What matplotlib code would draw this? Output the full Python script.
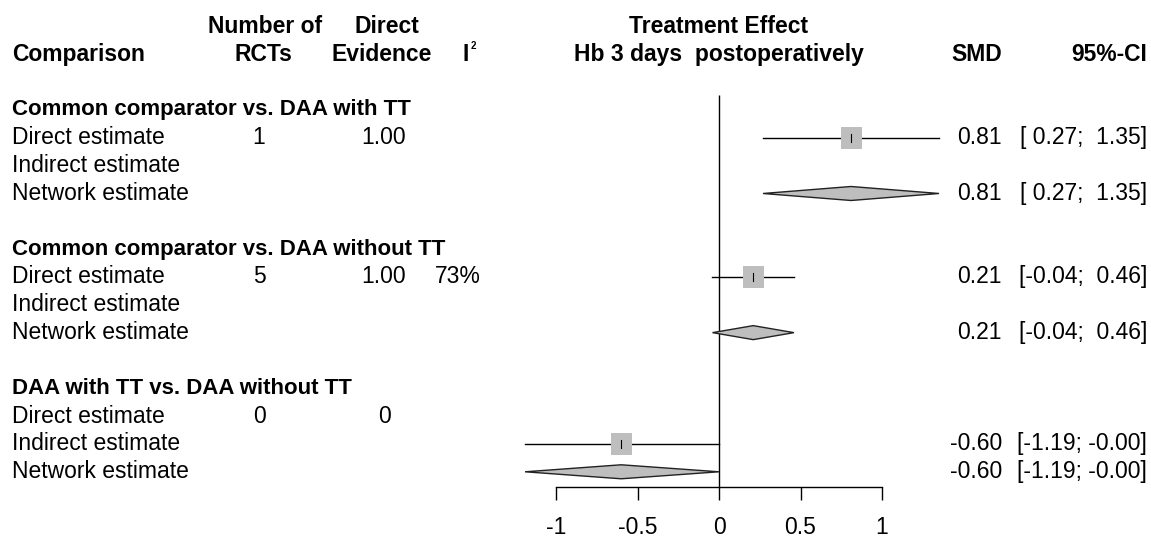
import matplotlib
matplotlib.use("Agg")
import matplotlib.pyplot as plt
from matplotlib.patches import Rectangle, Polygon

plt.rcParams["font.family"] = ["Liberation Sans", "DejaVu Sans"]
FS = 16.5

# data
groups = ["Common comparator vs. DAA with TT",
          "Common comparator vs. DAA without TT",
          "DAA with TT vs. DAA without TT"]
row_names = ["Direct estimate", "Indirect estimate", "Network estimate"]
n_rcts = ["1", "5", "0"]
direct_evidence = ["1.00", "1.00", "0"]
i2 = ["", "73%", ""]

direct_smd = [0.81, 0.21, None]
direct_lo = [0.27, -0.04, None]
direct_hi = [1.35, 0.46, None]

indirect_smd = [None, None, -0.60]
indirect_lo = [None, None, -1.19]
indirect_hi = [None, None, -0.00]

network_smd = [0.81, 0.21, -0.60]
network_lo = [0.27, -0.04, -1.19]
network_hi = [1.35, 0.46, -0.00]

x_ticks = [-1, -0.5, 0, 0.5, 1]
x_ticklabels = ["-1", "-0.5", "0", "0.5", "1"]

# layout (pixels in a 1151x537 figure)
W, H = 1151, 537
X0, SCALE = 719, 163.0     # pixel of x=0 and pixels per unit
Y0, STEP = 110, 27.83      # pixel of row 0 and pixels per row
AXIS_Y = 486.7


def px(p):
    return (p - X0) / SCALE


fig = plt.figure(figsize=(W / 100, H / 100), dpi=100)
ax = fig.add_axes([0, (H - AXIS_Y) / H, 1, AXIS_Y / H])
ax.set_xlim(px(0), px(W))
ax.set_ylim((AXIS_Y - Y0) / STEP, -Y0 / STEP)
for s in ["top", "left", "right"]:
    ax.spines[s].set_visible(False)
ax.spines["bottom"].set_bounds(-1, 1)
ax.spines["bottom"].set_linewidth(1)
ax.set_yticks([])
ax.set_xticks(x_ticks)
ax.set_xticklabels(x_ticklabels)
ax.tick_params(axis="x", length=9.6, width=1, pad=11.5, labelsize=FS)

bold = dict(fontsize=FS, fontweight="bold", va="center")
norm = dict(fontsize=FS, va="center")

# header
ax.text(px(12), -2, "Comparison", ha="left", **bold)
ax.text(px(265), -3, "Number of", ha="center", **bold)
ax.text(px(263), -2, "RCTs", ha="center", **bold)
ax.text(px(387), -3, "Direct", ha="center", **bold)
ax.text(px(382), -2, "Evidence", ha="center", **bold)
ax.text(px(462), -2, "I", ha="left", **bold)
ax.text(px(471), -2.3, "2", ha="left", va="center", fontsize=7, fontweight="bold")
ax.text(0, -3, "Treatment Effect", ha="center", **bold)
ax.text(0, -2, "Hb 3 days  postoperatively", ha="center", **bold)
ax.text(px(1002), -2, "SMD", ha="right", **bold)
ax.text(px(1147), -2, "95%-CI", ha="right", **bold)

gray = "#bebebe"
sq_w, sq_h = 21 / SCALE, 22 / STEP
dia_h = 7 / STEP


def ci_text(lo, hi):
    return "[%5.2f; %5.2f]" % (lo, hi)


def square(est, lo, hi, r):
    ax.plot([lo, hi], [r, r], color="black", lw=1, zorder=2)
    ax.add_patch(Rectangle((est - sq_w / 2, r - sq_h / 2), sq_w, sq_h,
                           facecolor=gray, edgecolor="none", zorder=3))
    ax.plot([est, est], [r - 0.14, r + 0.14], color="black", lw=0.8, zorder=4)
    ax.text(px(1002), r, "%.2f" % est, ha="right", **norm)
    ax.text(px(1147), r, ci_text(lo, hi), ha="right", **norm)


for g in range(len(groups)):
    r0 = g * 5
    ax.text(px(12), r0, groups[g], ha="left", fontsize=16.05,
            fontweight="bold", va="center")
    for k, name in enumerate(row_names):
        ax.text(px(12), r0 + 1 + k, name, ha="left", **norm)
    ax.text(px(259), r0 + 1, n_rcts[g], ha="center", **norm)
    ax.text(px(384), r0 + 1, direct_evidence[g], ha="center", **norm)
    ax.text(px(458), r0 + 1, i2[g], ha="center", **norm)

    if direct_smd[g] is not None:
        square(direct_smd[g], direct_lo[g], direct_hi[g], r0 + 1)
    if indirect_smd[g] is not None:
        square(indirect_smd[g], indirect_lo[g], indirect_hi[g], r0 + 2)

    r = r0 + 3
    est, lo, hi = network_smd[g], network_lo[g], network_hi[g]
    ax.add_patch(Polygon([(lo, r), (est, r - dia_h), (hi, r), (est, r + dia_h)],
                         closed=True, facecolor=gray, edgecolor="#222222",
                         lw=1, zorder=3))
    ax.text(px(1002), r, "%.2f" % est, ha="right", **norm)
    ax.text(px(1147), r, ci_text(lo, hi), ha="right", **norm)

# line of no effect
ax.vlines(0, (95 - Y0) / STEP, (AXIS_Y - Y0) / STEP, color="black", lw=1, zorder=1)

fig.savefig("out.png", dpi=100)
